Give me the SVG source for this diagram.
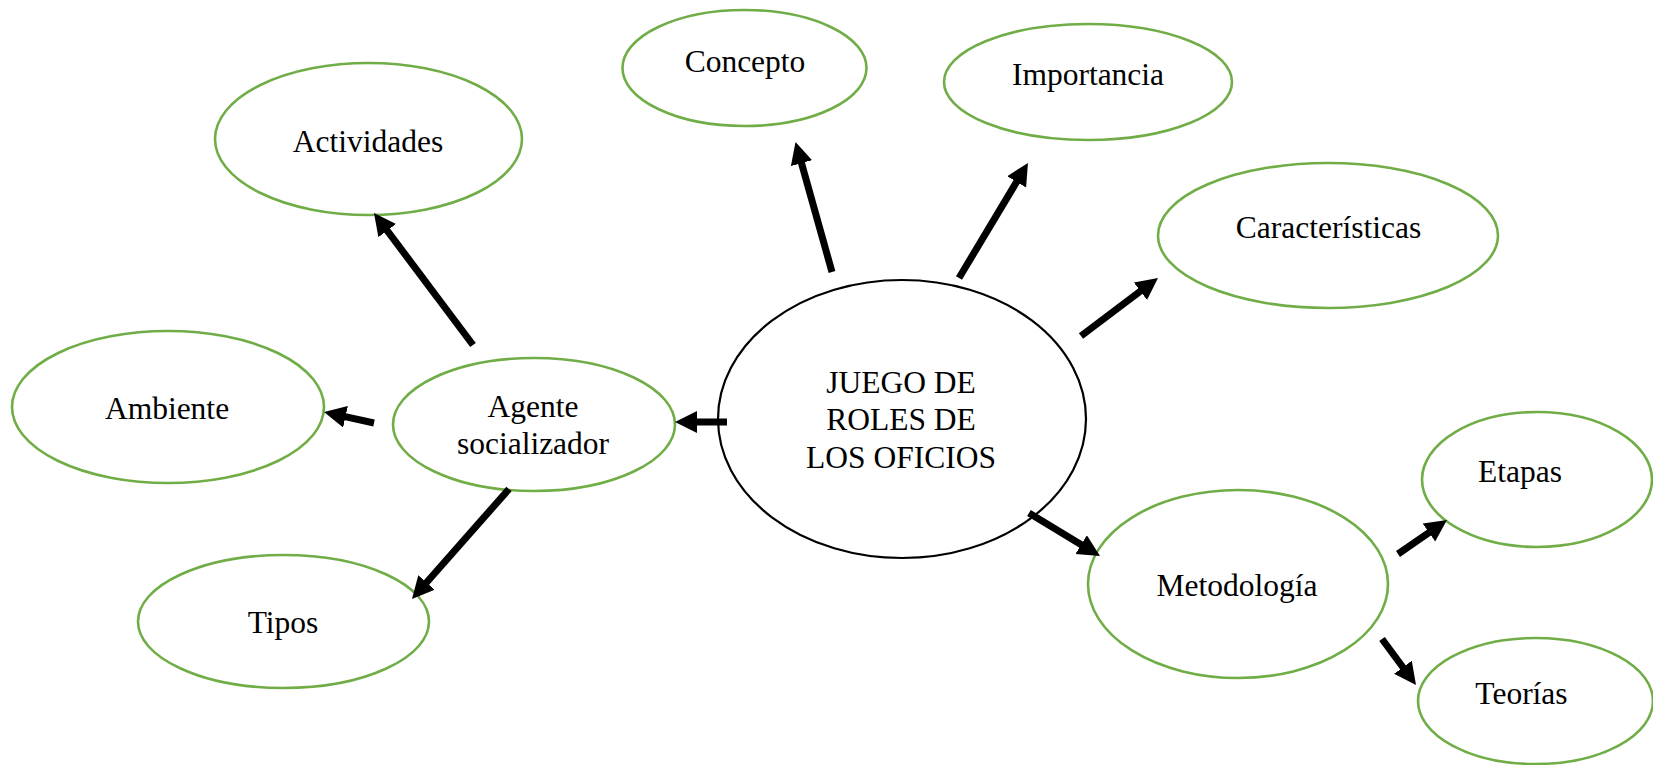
<svg xmlns="http://www.w3.org/2000/svg" width="1653" height="765" viewBox="0 0 1653 765">
<style>
.node ellipse { fill: #ffffff; stroke: #70AD47; stroke-width: 2.6; }
.node.main ellipse { stroke: #000000; stroke-width: 2.2; }
.node text { font-family: "Liberation Serif", "Times New Roman", serif; font-size: 31.5px; fill: #000000; text-anchor: middle; }
.conn line { stroke: #000000; stroke-width: 7; stroke-linecap: butt; marker-end: url(#arrow); }
</style>
<defs>
<marker id="arrow" markerUnits="userSpaceOnUse" markerWidth="24" markerHeight="24" refX="4" refY="11" orient="auto" viewBox="0 0 24 24">
<path d="M0,0 L22,11 L0,22 z" fill="#000000"/>
</marker>
</defs>
<rect width="1653" height="765" fill="#ffffff"/>
<g id="n-central" class="node main">
<ellipse cx="902" cy="419" rx="184" ry="139"/>
<text x="901" y="393">JUEGO DE</text>
<text x="901" y="430">ROLES DE</text>
<text x="901" y="468">LOS OFICIOS</text>
</g>
<g id="n-concepto" class="node">
<ellipse cx="744.5" cy="68" rx="122" ry="58"/>
<text x="745" y="72">Concepto</text>
</g>
<g id="n-importancia" class="node">
<ellipse cx="1088" cy="82" rx="144" ry="58"/>
<text x="1088" y="85">Importancia</text>
</g>
<g id="n-caracteristicas" class="node">
<ellipse cx="1328" cy="235.5" rx="170" ry="72.5"/>
<text x="1328.5" y="238">Características</text>
</g>
<g id="n-actividades" class="node">
<ellipse cx="368.5" cy="139" rx="153.5" ry="76"/>
<text x="368" y="152">Actividades</text>
</g>
<g id="n-ambiente" class="node">
<ellipse cx="168" cy="407" rx="156" ry="76"/>
<text x="167" y="419">Ambiente</text>
</g>
<g id="n-agente" class="node">
<ellipse cx="534" cy="424.5" rx="141" ry="66.5"/>
<text x="533" y="417">Agente</text>
<text x="533" y="454">socializador</text>
</g>
<g id="n-tipos" class="node">
<ellipse cx="283.5" cy="621.5" rx="145.5" ry="66.5"/>
<text x="283" y="633">Tipos</text>
</g>
<g id="n-metodologia" class="node">
<ellipse cx="1238" cy="584" rx="150" ry="94"/>
<text x="1237" y="596">Metodología</text>
</g>
<g id="n-etapas" class="node">
<ellipse cx="1537" cy="479.5" rx="115" ry="67.5"/>
<text x="1520" y="482">Etapas</text>
</g>
<g id="n-teorias" class="node">
<ellipse cx="1535.5" cy="701" rx="117.5" ry="63"/>
<text x="1521.5" y="704">Teorías</text>
</g>
<g id="connectors" class="conn">
<line x1="832" y1="272" x2="800.4" y2="159.3"/>
<line x1="959" y1="278" x2="1018.7" y2="178.4"/>
<line x1="1081" y1="336" x2="1143.6" y2="288.8"/>
<line x1="727" y1="422" x2="693" y2="422"/>
<line x1="1029" y1="513" x2="1084.6" y2="546.7"/>
<line x1="1398" y1="554" x2="1432.2" y2="530.3"/>
<line x1="1382" y1="639" x2="1405.3" y2="670.5"/>
<line x1="473" y1="345" x2="384.8" y2="227.4"/>
<line x1="374" y1="423" x2="341.6" y2="415.9"/>
<line x1="509" y1="489" x2="423.9" y2="585.5"/>
</g>
</svg>
